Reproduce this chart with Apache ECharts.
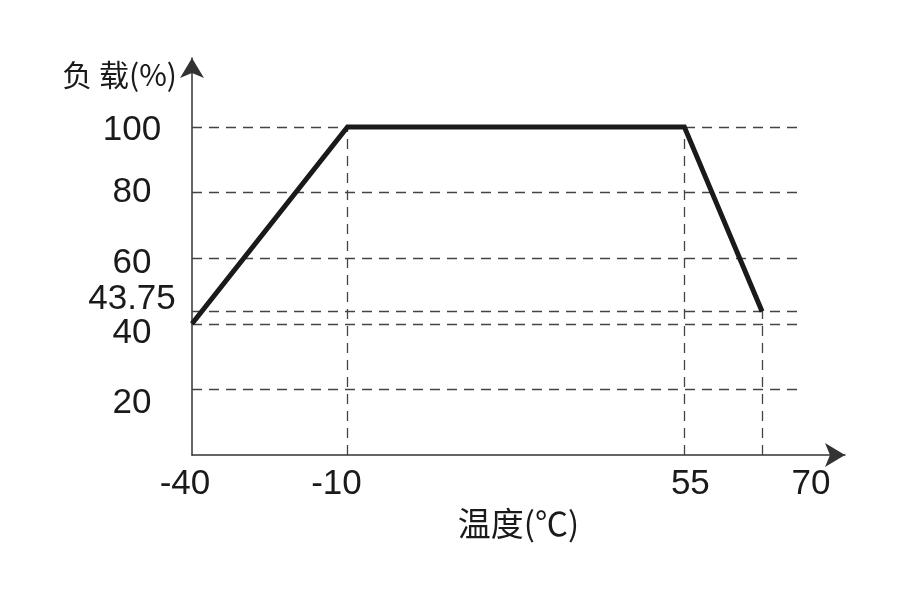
<!DOCTYPE html>
<html style="height: 100%">
<head>
<meta charset="utf-8">
<title>负载-温度曲线</title>
<script src="https://cdn.jsdelivr.net/npm/echarts@6/dist/echarts.min.js"></script>
</head>
<body style="height: 100%; margin: 0; background: #fff">
	<div id="container" style="width: 921px; height: 595px"></div>
	<script type="text/javascript">
		// 曲线拐点: 温度(℃) / 负载(%)
		var temps = [-40, -10, 55, 70];
		var loads = [40, 100, 100, 43.75];
		// 刻度
		var xTicks = [-40, -10, 55, 70];
		var yTicks = [20, 40, 43.75, 60, 80, 100];
		// 水平虚线右端 (温度)
		var gridEnd = 77;

		var myChart = echarts.init(document.getElementById('container'));

		var curve = [];
		for (var i = 0; i < temps.length; i++) {
			curve.push([temps[i], loads[i]]);
		}

		// 水平虚线
		var hLines = [];
		for (var i = 0; i < yTicks.length; i++) {
			hLines.push([{ coord: [xTicks[0], yTicks[i]] }, { coord: [gridEnd, yTicks[i]] }]);
		}
		// 拐点到横轴的竖直虚线
		var vLines = [];
		for (var i = 1; i < temps.length; i++) {
			vLines.push([{ coord: [temps[i], 0] }, { coord: [temps[i], loads[i]] }]);
		}

		// 标签微调 (像素), 原图标签并不完全对齐刻度
		var yShift = { '100': 3, '60': 5, '43.75': -12, '40': 10, '20': 14 };
		var xShift = { '-40': -7, '-10': -11, '55': 6, '70': 49 };

		var textFont = 'Liberation Sans, Arial, sans-serif';
		var cjkFont = 'Noto Sans CJK SC, sans-serif';

		var yRich = {}, xRich = {};
		for (var i = 0; i < yTicks.length; i++) {
			var d = yShift[String(yTicks[i])] || 0;
			yRich['y' + i] = {
				fontSize: 35, fontFamily: textFont, color: '#1a1a1a',
				padding: d > 0 ? [2 * d, 0, 0, 0] : [0, 0, -2 * d, 0]
			};
		}
		for (var i = 0; i < xTicks.length; i++) {
			var d = xShift[String(xTicks[i])] || 0;
			xRich['x' + i] = {
				fontSize: 35, fontFamily: textFont, color: '#1a1a1a',
				padding: d > 0 ? [0, 0, 0, 2 * d] : [0, -2 * d, 0, 0]
			};
		}

		var option = {
			animation: false,
			backgroundColor: '#fff',
			grid: {
				left: 192,
				right: 76,
				top: 58,
				bottom: 140
			},
			xAxis: {
				type: 'value',
				min: -40,
				max: 86,
				name: '温度(℃)',
				nameLocation: 'middle',
				nameGap: 60,
				nameTextStyle: {
					fontSize: 33,
					fontFamily: cjkFont,
					color: '#1a1a1a',
					verticalAlign: 'middle'
				},
				axisLine: {
					onZero: false,
					symbol: ['none', 'arrow'],
					symbolSize: [18, 20],
					lineStyle: { color: '#333', width: 1.5 }
				},
				axisTick: { show: false },
				splitLine: { show: false },
				axisLabel: {
					customValues: xTicks,
					margin: 12,
					formatter: function (v) {
						return '{x' + xTicks.indexOf(v) + '|' + v + '}';
					},
					rich: xRich
				}
			},
			yAxis: {
				type: 'value',
				min: 0,
				max: 121,
				name: '负 载(%)',
				nameLocation: 'end',
				nameGap: -17,
				nameTextStyle: {
					fontSize: 30,
					fontFamily: cjkFont,
					color: '#1a1a1a',
					align: 'right',
					verticalAlign: 'middle',
					padding: [0, 15, 0, 0]
				},
				axisLine: {
					show: true,
					onZero: false,
					symbol: ['none', 'arrow'],
					symbolSize: [18, 20],
					lineStyle: { color: '#333', width: 1.5 }
				},
				axisTick: { show: false },
				splitLine: { show: false },
				axisLabel: {
					customValues: yTicks,
					margin: 60,
					align: 'center',
					formatter: function (v) {
						return '{y' + yTicks.indexOf(v) + '|' + v + '}';
					},
					rich: yRich
				}
			},
			series: [{
				name: '虚线',
				type: 'line',
				data: [],
				markLine: {
					silent: true,
					symbol: ['none', 'none'],
					label: { show: false },
					lineStyle: { color: '#444', width: 1.3, type: [10, 7] },
					data: hLines.concat(vLines)
				}
			}, {
				name: '负载',
				type: 'line',
				data: curve,
				symbol: 'none',
				z: 5,
				lineStyle: { color: '#1a1a1a', width: 5, cap: 'butt', join: 'miter' }
			}]
		};

		myChart.setOption(option);
	</script>
</body>
</html>
